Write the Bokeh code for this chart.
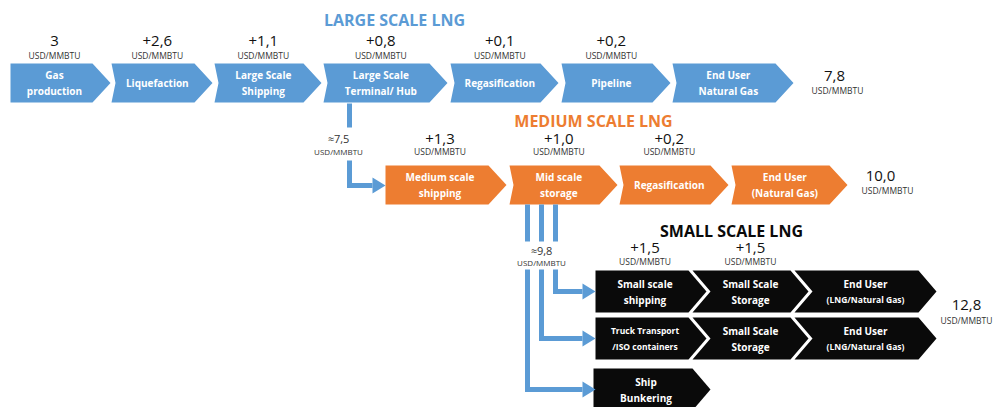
from bokeh.plotting import figure
from bokeh.models import Range1d, ColumnDataSource
from bokeh.core.properties import value
from bokeh.embed import file_html
from bokeh.resources import INLINE

# ---------------- data ----------------
unit = "USD/MMBTU"

large_title = "LARGE SCALE LNG"
large_steps = ["Gas\nproduction", "Liquefaction", "Large Scale\nShipping",
               "Large Scale\nTerminal/ Hub", "Regasification", "Pipeline",
               "End User\nNatural Gas"]
large_costs = ["3", "+2,6", "+1,1", "+0,8", "+0,1", "+0,2", ""]
large_total = "7,8"

medium_title = "MEDIUM SCALE LNG"
medium_entry = "\u22487,5"
medium_steps = ["Medium scale\nshipping", "Mid scale\nstorage", "Regasification",
                "End User\n(Natural Gas)"]
medium_costs = ["+1,3", "+1,0", "+0,2", ""]
medium_total = "10,0"

small_title = "SMALL SCALE LNG"
small_entry = "\u22489,8"
small_steps_1 = ["Small scale\nshipping", "Small Scale\nStorage", "End User\n(LNG/Natural Gas)"]
small_steps_2 = ["Truck Transport\n/ISO containers", "Small Scale\nStorage", "End User\n(LNG/Natural Gas)"]
small_steps_3 = ["Ship\nBunkering"]
small_costs = ["+1,5", "+1,5", ""]
small_total = "12,8"

# ---------------- layout / style ----------------
W, H = 1003, 407
BLUE = "#5b9bd5"
ORANGE = "#ed7d31"
BLACK = "#0a0a0a"
FONT = "Open Sans"

p = figure(width=W, height=H, x_range=Range1d(0, W), y_range=Range1d(H, 0),
           output_backend="svg", toolbar_location=None, min_border=0)
p.axis.visible = False
p.grid.visible = False
p.outline_line_color = None
p.background_fill_color = "white"
p.border_fill_color = "white"


def txt(x, y, t, size, color="#222222", bold=False, align="center"):
    p.text(x=[x], y=[y], text=[t], text_font=value(FONT),
           text_font_size=f"{size}px", text_color=color,
           text_font_style="bold" if bold else "normal",
           text_align=align, text_baseline="middle")


def row(steps, lefts, rights, top, bot, color, d, notch, costs=None,
        cost_y=None, unit_y=None):
    xs, ys = [], []
    mid = (top + bot) / 2
    for i, (l, r) in enumerate(zip(lefts, rights)):
        n = 0 if i == 0 else notch
        xs.append([l, r - d, r, r - d, l, l + n])
        ys.append([top, top, mid, bot, bot, mid])
    p.patches(xs="xs", ys="ys", source=ColumnDataSource(dict(xs=xs, ys=ys)),
              fill_color=color, line_color=None)
    for i, (s, l, r) in enumerate(zip(steps, lefts, rights)):
        cx = (l + r) / 2 - d / 3 + (notch / 3 if i > 0 else 0)
        lines = s.split("\n")
        sizes = [8.5 if len(t) > 14 else 10 for t in lines]
        if len(lines) == 1:
            txt(cx, mid, lines[0], sizes[0], "white", True)
        else:
            txt(cx, mid - 8, lines[0], sizes[0], "white", True)
            txt(cx, mid + 8, lines[1], sizes[1], "white", True)
        if costs is not None and costs[i]:
            txt(cx, cost_y, costs[i], 15, "#111111")
            txt(cx, unit_y, unit, 8.5, "#333333")


def arrow_head(x, y):
    return [x, x + 13, x], [y - 8, y, y + 8]


# ---- Large scale ----
txt(394, 19, large_title, 16, BLUE, True)
L_left = [10, 111, 214, 323, 450, 561, 672]
L_right = [110, 212, 321, 447, 558, 670, 793]
row(large_steps, L_left, L_right, 63, 102, BLUE, 18, 4, large_costs, 40, 55)
txt(834, 75, large_total, 15, "#111111")
txt(837, 90, unit, 8.5, "#333333")

# ---- Medium scale ----
txt(593, 120, medium_title, 16, ORANGE, True)
M_left = [385, 509, 619, 731]
M_right = [506, 617, 728, 847]
row(medium_steps, M_left, M_right, 165, 204, ORANGE, 18, 4, medium_costs, 138, 151)
txt(880, 175, medium_total, 15, "#111111")
txt(887, 190, unit, 8.5, "#333333")

# ---- Small scale ----
txt(731, 230, small_title, 16, BLACK, True)
S_left = [595, 692, 794]
S_right = [706, 808, 936]
row(small_steps_1, S_left, S_right, 270, 312, BLACK, 18, 18, small_costs, 247, 261)
row(small_steps_2, S_left, S_right, 317, 359, BLACK, 18, 18)
row(small_steps_3, [593], [710], 368, 410, BLACK, 18, 18)
txt(966, 304, small_total, 15, "#111111")
txt(966, 320, unit, 8.5, "#333333")

# ---- connectors ----
cx_, cy_ = [], []
hx, hy = [], []
# large terminal -> medium shipping
cx_ += [[349, 349], [349, 349, 372]]
cy_ += [[103, 127], [160, 185, 185]]
a = arrow_head(372, 185); hx.append(a[0]); hy.append(a[1])
txt(338, 138, medium_entry, 11, "#333333")
txt(338, 151, unit, 8, "#333333")
# mid scale storage -> small rows
for x, y in [(555, 291), (541, 338), (527, 389)]:
    cx_ += [[x, x], [x, x, 582]]
    cy_ += [[204, 241], [269, y, y]]
    a = arrow_head(582, y); hx.append(a[0]); hy.append(a[1])
txt(541, 250, small_entry, 11, "#333333")
txt(541, 262, unit, 8, "#333333")

p.multi_line(xs=cx_, ys=cy_, line_color=BLUE, line_width=5, line_cap="butt",
             line_join="miter")
p.patches(xs=hx, ys=hy, fill_color=BLUE, line_color=None)

open("out.html", "w").write(file_html(p, INLINE))
